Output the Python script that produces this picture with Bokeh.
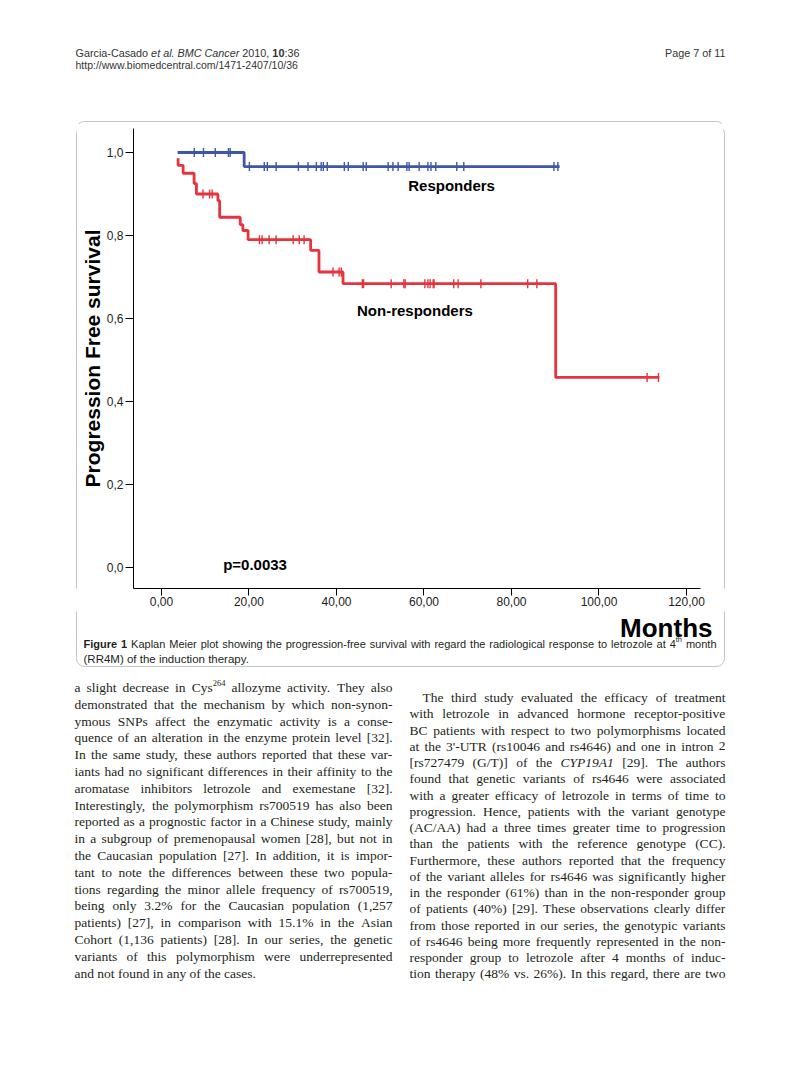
import numpy as np
from bokeh.plotting import figure
from bokeh.layouts import column, row
from bokeh.models import Range1d, FixedTicker, Label, BoxAnnotation
from bokeh.embed import file_html
from bokeh.resources import INLINE

# ---------------- data ----------------
resp_times = [3.7, 18.9, 91.0]
resp_surv = [1.0, 0.966, 0.966]
resp_censor = [7.5, 9.6, 12.3, 15.3, 15.7, 20.1, 23.5, 24.2, 26.2, 31.3, 33.5,
               35.4, 36.5, 37.0, 37.9, 41.8, 42.7, 46.1, 46.8, 51.8, 52.9, 54.1,
               56.1, 56.6, 58.9, 60.9, 61.6, 62.7, 67.5, 69.1, 89.7, 90.6]

nonresp_times = [3.8, 3.8, 4.95, 7.46, 7.99, 12.9, 13.3, 18.0, 18.6, 19.8,
                 34.1, 36.0, 41.5, 90.1, 113.8]
nonresp_surv = [0.986, 0.969, 0.950, 0.925, 0.900, 0.884, 0.844, 0.826, 0.812,
                0.790, 0.764, 0.712, 0.684, 0.458, 0.458]
nonresp_censor = [9.5, 11.0, 11.6, 22.4, 23.0, 24.6, 26.2, 30.1, 31.5, 32.6,
                  39.2, 40.6, 41.1, 45.9, 46.2, 52.5, 55.4, 55.7, 60.2, 60.9,
                  61.4, 62.1, 62.3, 66.8, 67.8, 73.0, 83.7, 85.8, 111.0, 113.6]

x_ticks = [0, 20, 40, 60, 80, 100, 120]
x_tick_labels = ["0,00", "20,00", "40,00", "60,00", "80,00", "100,00", "120,00"]
y_ticks = [0.0, 0.2, 0.4, 0.6, 0.8, 1.0]
y_tick_labels = ["0,0", "0,2", "0,4", "0,6", "0,8", "1,0"]

group_labels = ["Responders", "Non-responders"]
p_value_text = "p=0.0033"
y_title = "Progression Free survival"
x_title = "Months"

header_words = [("Garcia-Casado", "normal"), ("et al.", "italic"), ("BMC Cancer", "italic"),
                ("2010,", "normal"), ("10", "bold"), (":36", "normal")]
header_url = "http://www.biomedcentral.com/1471-2407/10/36"
header_page = "Page 7 of 11"
caption_line1 = ("**Figure **1 Kaplan Meier plot showing the progression-free survival with "
                 "regard the radiological response to letrozole at 4^th month")
caption_line2 = "(RR4M) of the induction therapy."

left_lines = [
    "a slight decrease in Cys^264 allozyme activity. They also",
    "demonstrated that the mechanism by which non-synon-",
    "ymous SNPs affect the enzymatic activity is a conse-",
    "quence of an alteration in the enzyme protein level [32].",
    "In the same study, these authors reported that these var-",
    "iants had no significant differences in their affinity to the",
    "aromatase inhibitors letrozole and exemestane [32].",
    "Interestingly, the polymorphism rs700519 has also been",
    "reported as a prognostic factor in a Chinese study, mainly",
    "in a subgroup of premenopausal women [28], but not in",
    "the Caucasian population [27]. In addition, it is impor-",
    "tant to note the differences between these two popula-",
    "tions regarding the minor allele frequency of rs700519,",
    "being only 3.2% for the Caucasian population (1,257",
    "patients) [27], in comparison with 15.1% in the Asian",
    "Cohort (1,136 patients) [28]. In our series, the genetic",
    "variants of this polymorphism were underrepresented",
    "and not found in any of the cases.",
]
right_lines = [
    "The third study evaluated the efficacy of treatment",
    "with letrozole in advanced hormone receptor-positive",
    "BC patients with respect to two polymorphisms located",
    "at the 3'-UTR (rs10046 and rs4646) and one in intron 2",
    "[rs727479 (G/T)] of the *CYP19A1 [29]. The authors",
    "found that genetic variants of rs4646 were associated",
    "with a greater efficacy of letrozole in terms of time to",
    "progression. Hence, patients with the variant genotype",
    "(AC/AA) had a three times greater time to progression",
    "than the patients with the reference genotype (CC).",
    "Furthermore, these authors reported that the frequency",
    "of the variant alleles for rs4646 was significantly higher",
    "in the responder (61%) than in the non-responder group",
    "of patients (40%) [29]. These observations clearly differ",
    "from those reported in our series, the genotypic variants",
    "of rs4646 being more frequently represented in the non-",
    "responder group to letrozole after 4 months of induc-",
    "tion therapy (48% vs. 26%). In this regard, there are two",
]

BLUE = "#3d56a6"
RED = "#e6333c"
TXT = "#231f20"
SANS = "Liberation Sans"
SERIF = "Liberation Serif"

# approximate advance widths (1/1000 em) used to justify text lines
_TIMES = dict(zip(" !\"#$%&'()*+,-./:;<=>?@[]",
                  [250, 333, 408, 500, 500, 833, 778, 180, 333, 333, 500, 564, 250, 333,
                   250, 278, 278, 278, 564, 564, 564, 444, 921, 333, 333]))
_TIMES.update({d: 500 for d in "0123456789"})
_TIMES.update(dict(zip("ABCDEFGHIJKLMNOPQRSTUVWXYZ",
                       [722, 667, 667, 722, 611, 556, 722, 722, 333, 389, 722, 611, 889,
                        722, 722, 556, 722, 667, 556, 611, 722, 722, 944, 722, 722, 611])))
_TIMES.update(dict(zip("abcdefghijklmnopqrstuvwxyz",
                       [444, 500, 444, 500, 444, 333, 500, 500, 278, 278, 500, 278, 778,
                        500, 500, 500, 500, 333, 389, 278, 500, 500, 722, 500, 500, 444])))
_TIMES_I = dict(_TIMES)
_TIMES_I.update({"C": 667, "Y": 556, "P": 611, "A": 611})
_HELV = dict(zip(" (),-./:'", [278, 333, 333, 278, 333, 278, 278, 278, 191]))
_HELV.update({d: 556 for d in "0123456789"})
_HELV.update(dict(zip("ABCDEFGHIJKLMNOPQRSTUVWXYZ",
                      [667, 667, 722, 722, 667, 611, 778, 722, 278, 500, 667, 556, 833,
                       722, 778, 667, 778, 722, 667, 611, 722, 667, 944, 667, 667, 611])))
_HELV.update(dict(zip("abcdefghijklmnopqrstuvwxyz",
                      [556, 556, 500, 556, 556, 278, 556, 556, 222, 222, 500, 222, 833,
                       556, 556, 556, 556, 333, 500, 278, 556, 500, 722, 500, 500, 500])))
_HELV_B = dict(_HELV)
_HELV_B.update({"F": 611, "i": 278, "g": 611, "u": 611, "r": 389, "e": 556})


def tw(s, table, size):
    return sum(table.get(c, 500) for c in s) * size / 1000.0


def surv_at(times, surv, t):
    idx = np.searchsorted(np.asarray(times), np.asarray(t), side="right") - 1
    return np.asarray(surv)[idx]


# ---------------- page geometry (page pixels) ----------------
PAGE_W, PAGE_H = 784, 1050
TOP_H = 124
CH_X0, CH_X1 = 77, 722
CH_Y1 = 611
FRAME_L, FRAME_R, FRAME_T, FRAME_B = 132, 700, 128, 588
BOX = dict(left=76, right=724, top=-121, bottom=-666)


def page_fig(x0, y0, w, h):
    f = figure(width=w, height=h, x_range=Range1d(x0, x0 + w),
               y_range=Range1d(-(y0 + h), -y0), x_axis_type=None, y_axis_type=None,
               output_backend="svg", toolbar_location=None, min_border=0,
               background_fill_color="white", border_fill_color="white")
    f.outline_line_color = None
    f.add_layout(BoxAnnotation(fill_alpha=0, line_color="#3a3a3a", line_width=1,
                               border_radius=8, **BOX))
    return f


def put(f, px, py, txt, size, font=SERIF, style="normal", align="left", color=TXT):
    f.add_layout(Label(x=px, y=-py, text=txt, text_font=font,
                       text_font_size=f"{size}px", text_font_style=style,
                       text_align=align, text_baseline="middle", text_color=color))


def parse_serif(word, size):
    if "^" in word:
        base, sup = word.split("^")
        return [(base, _TIMES, size, "normal", 0), (sup, _TIMES, size * 0.63, "normal", -5)]
    if word.startswith("*"):
        return [(word[1:], _TIMES_I, size, "italic", 0)]
    return [(word, _TIMES, size, "normal", 0)]


def parse_sans(word, size):
    if word.startswith("**"):
        return [(word.strip("*"), _HELV_B, size, "bold", 0)]
    if "^" in word:
        base, sup = word.split("^")
        return [(base, _HELV, size, "normal", 0), (sup, _HELV, size * 0.68, "normal", -4)]
    return [(word, _HELV, size, "normal", 0)]


def set_line(f, x0, x1, y, text, size, font, parser, space_tab, justify=True,
             color=TXT):
    words = [parser(w, size) for w in text.split(" ")]
    widths = [sum(tw(t, tab, sz) for (t, tab, sz, st, dy) in w) for w in words]
    sp = tw(" ", space_tab, size)
    if justify and len(words) > 1:
        sp = (x1 - x0 - sum(widths)) / (len(words) - 1)
    x = x0
    for w, wd in zip(words, widths):
        xx = x
        for (t, tab, sz, st, dy) in w:
            put(f, xx, y + dy, t, sz, font, st, color=color)
            xx += tw(t, tab, sz)
        x += wd + sp


# ---------------- chart figure ----------------
cw, chh = CH_X1 - CH_X0, CH_Y1 - TOP_H
p = figure(width=cw, height=chh, output_backend="svg", toolbar_location=None,
           x_range=Range1d(-6.39, 123.2), y_range=Range1d(-0.0506, 1.0578),
           min_border_left=FRAME_L - CH_X0, min_border_right=CH_X1 - FRAME_R,
           min_border_top=FRAME_T - TOP_H, min_border_bottom=CH_Y1 - FRAME_B,
           background_fill_color="white", border_fill_color="white")
p.outline_line_color = None
p.xgrid.visible = False
p.ygrid.visible = False

for ax in (p.xaxis[0], p.yaxis[0]):
    ax.axis_line_color = "black"
    ax.major_tick_line_color = "black"
    ax.minor_tick_line_color = None
    ax.major_tick_in = 0
    ax.major_tick_out = 8
    ax.major_label_standoff = 2
    ax.major_label_text_font = SANS
    ax.major_label_text_font_size = "12px"
    ax.major_label_text_color = "#222222"
p.xaxis.major_tick_out = 7
p.xaxis.major_label_standoff = 1

p.xaxis.ticker = FixedTicker(ticks=x_ticks)
p.xaxis.major_label_overrides = {t: l for t, l in zip(x_ticks, x_tick_labels)}
p.yaxis.ticker = FixedTicker(ticks=y_ticks)
p.yaxis.major_label_overrides = {t: l for t, l in zip(y_ticks, y_tick_labels)}
p.yaxis.axis_label = y_title
p.yaxis.axis_label_text_font = SANS
p.yaxis.axis_label_text_font_size = "21px"
p.yaxis.axis_label_text_font_style = "bold"
p.yaxis.axis_label_text_color = "black"
p.yaxis.axis_label_standoff = 0

p.step(x=resp_times, y=resp_surv, mode="after", line_color=BLUE, line_width=2.8)
p.step(x=nonresp_times, y=nonresp_surv, mode="after", line_color=RED, line_width=2.8)

p.scatter(x=resp_censor, y=surv_at(resp_times, resp_surv, resp_censor),
          marker="dash", size=9, angle=np.pi / 2, line_color=BLUE, line_width=1.4)
p.scatter(x=nonresp_censor, y=surv_at(nonresp_times, nonresp_surv, nonresp_censor),
          marker="dash", size=9, angle=np.pi / 2, line_color=RED, line_width=1.4)

for (lx, ly, txt) in [(56.4, 0.92, group_labels[0]), (44.7, 0.62, group_labels[1]),
                      (14.1, 0.007, p_value_text)]:
    p.add_layout(Label(x=lx, y=ly, text=txt, text_font=SANS, text_font_size="15px",
                       text_font_style="bold", text_baseline="middle",
                       text_color="black"))

# ---------------- page strips ----------------
top = page_fig(0, 0, PAGE_W, TOP_H)
left = page_fig(0, TOP_H, CH_X0, chh)
right = page_fig(CH_X1, TOP_H, PAGE_W - CH_X1, chh)
bottom = page_fig(0, CH_Y1, PAGE_W, PAGE_H - CH_Y1)

HC = "#333333"
HS = 10.8
hx = 75
for (txt, st) in header_words:
    put(top, hx, 52, txt, HS, SANS, st, color=HC)
    tab = _HELV_B if st == "bold" else _HELV
    hx += tw(txt, tab, HS) + (0 if txt == "10" else tw(" ", _HELV, HS))
put(top, 75, 64, header_url, 10.5, SANS, color=HC)
put(top, 725, 52, header_page, 10.8, SANS, align="right", color=HC)

# x axis title
put(bottom, 712, 627, x_title, 26, SANS, "bold", "right", "black")

# caption
set_line(bottom, 83, 716, 643, caption_line1, 11, SANS, parse_sans, _HELV)
set_line(bottom, 83, 716, 658, caption_line2, 11.5, SANS, parse_sans, _HELV, justify=False)

BS = 13.5
for i, line in enumerate(left_lines):
    set_line(bottom, 74, 392, 687 + i * 16.8, line, BS, SERIF, parse_serif, _TIMES,
             justify=(i < len(left_lines) - 1))
for i, line in enumerate(right_lines):
    set_line(bottom, 422 if i == 0 else 409, 725, 697 + i * 16.25, line, BS, SERIF,
             parse_serif, _TIMES)

layout = column(top, row(left, p, right), bottom)
open("out.html", "w").write(file_html(layout, INLINE))
